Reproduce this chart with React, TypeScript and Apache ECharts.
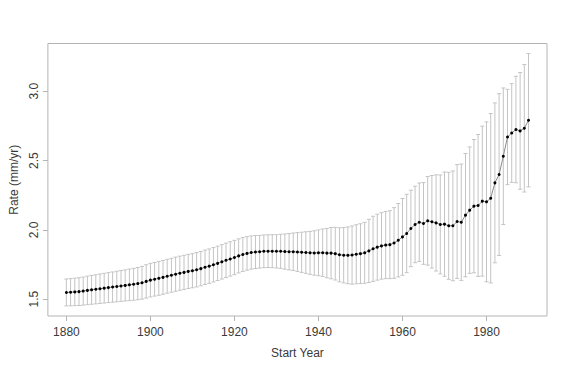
import React, { useEffect, useRef } from "react";
import * as echarts from "echarts";

const years: number[] = [
  1880, 1881, 1882, 1883, 1884, 1885, 1886, 1887, 1888, 1889,
  1890, 1891, 1892, 1893, 1894, 1895, 1896, 1897, 1898, 1899,
  1900, 1901, 1902, 1903, 1904, 1905, 1906, 1907, 1908, 1909,
  1910, 1911, 1912, 1913, 1914, 1915, 1916, 1917, 1918, 1919,
  1920, 1921, 1922, 1923, 1924, 1925, 1926, 1927, 1928, 1929,
  1930, 1931, 1932, 1933, 1934, 1935, 1936, 1937, 1938, 1939,
  1940, 1941, 1942, 1943, 1944, 1945, 1946, 1947, 1948, 1949,
  1950, 1951, 1952, 1953, 1954, 1955, 1956, 1957, 1958, 1959,
  1960, 1961, 1962, 1963, 1964, 1965, 1966, 1967, 1968, 1969,
  1970, 1971, 1972, 1973, 1974, 1975, 1976, 1977, 1978, 1979,
  1980, 1981, 1982, 1983, 1984, 1985, 1986, 1987, 1988, 1989,
  1990,
];

const rate: number[] = [
  1.548, 1.55, 1.552, 1.554, 1.558, 1.563, 1.567, 1.571, 1.575, 1.579,
  1.583, 1.587, 1.591, 1.595, 1.599, 1.603, 1.607, 1.612, 1.618, 1.628,
  1.637, 1.643, 1.65, 1.657, 1.665, 1.672, 1.68, 1.687, 1.693, 1.7,
  1.705, 1.712, 1.72, 1.73, 1.738, 1.748, 1.758, 1.769, 1.78, 1.79,
  1.8, 1.812, 1.822, 1.83, 1.836, 1.84, 1.842, 1.845, 1.846, 1.846,
  1.845, 1.845, 1.843, 1.842, 1.842, 1.84, 1.838, 1.836, 1.834, 1.833,
  1.834, 1.835, 1.832, 1.832, 1.828, 1.82, 1.817, 1.816, 1.818, 1.824,
  1.828, 1.834, 1.848, 1.863, 1.875, 1.884, 1.89, 1.893, 1.905, 1.925,
  1.949, 1.974, 2.01, 2.039, 2.055, 2.046, 2.065, 2.058, 2.05, 2.039,
  2.041, 2.029, 2.029, 2.06, 2.055, 2.106, 2.142, 2.171, 2.176, 2.207,
  2.202, 2.228, 2.339, 2.399, 2.531, 2.67, 2.699, 2.724, 2.714, 2.733,
  2.791,
];

const halfWidth: number[] = [
  0.097, 0.098, 0.099, 0.1, 0.101, 0.103, 0.104, 0.105, 0.106, 0.107,
  0.108, 0.109, 0.11, 0.111, 0.112, 0.114, 0.115, 0.116, 0.118, 0.12,
  0.121, 0.121, 0.122, 0.122, 0.122, 0.122, 0.123, 0.123, 0.123, 0.123,
  0.123, 0.124, 0.124, 0.124, 0.124, 0.124, 0.124, 0.124, 0.124, 0.124,
  0.124, 0.123, 0.122, 0.121, 0.12, 0.119, 0.118, 0.118, 0.118, 0.119,
  0.12, 0.123, 0.127, 0.131, 0.135, 0.14, 0.145, 0.15, 0.155, 0.16,
  0.165, 0.171, 0.178, 0.185, 0.19, 0.195, 0.2, 0.205, 0.21, 0.213,
  0.216, 0.22, 0.228, 0.235, 0.238, 0.24, 0.242, 0.245, 0.255, 0.265,
  0.277, 0.283, 0.276, 0.276, 0.283, 0.295, 0.32, 0.334, 0.347, 0.357,
  0.376, 0.386, 0.396, 0.411, 0.42, 0.445, 0.456, 0.481, 0.512, 0.541,
  0.577, 0.611, 0.577, 0.584, 0.493, 0.344, 0.356, 0.384, 0.421, 0.46,
  0.481,
];

const xTicks: number[] = [1880, 1900, 1920, 1940, 1960, 1980];
const yTicks: number[] = [1.5, 2.0, 2.5, 3.0];

export default function App() {
  const ref = useRef<HTMLDivElement>(null);

  useEffect(() => {
    if (!ref.current) return;
    document.body.style.margin = "0";
    const chart = echarts.init(ref.current, null, { renderer: "svg" });

    const lows = rate.map((v, i) => v - halfWidth[i]);
    const highs = rate.map((v, i) => v + halfWidth[i]);
    const dMin = Math.min(...lows);
    const dMax = Math.max(...highs);
    const yPad = (dMax - dMin) * 0.04;
    const xPad = (years[years.length - 1] - years[0]) * 0.04;

    const errData = years.map((y, i) => [y, lows[i], highs[i]]);
    const lineData = years.map((y, i) => [y, rate[i]]);

    const textColor = "#3a3a3a";
    const font = "Liberation Sans, Arial, sans-serif";

    chart.setOption({
      animation: false,
      backgroundColor: "#ffffff",
      grid: {
        left: 43.5,
        right: 23,
        top: 43.5,
        bottom: 55,
        show: true,
        borderColor: "#b4b4b4",
        borderWidth: 1,
        backgroundColor: "transparent",
      },
      xAxis: {
        type: "value",
        min: years[0] - xPad,
        max: years[years.length - 1] + xPad,
        name: "Start Year",
        nameLocation: "middle",
        nameGap: 31,
        nameTextStyle: { color: textColor, fontSize: 12, fontFamily: font },
        axisLine: { show: false },
        splitLine: { show: false },
        axisTick: {
          show: true,
          length: 5,
          customValues: xTicks,
          lineStyle: { color: "#b4b4b4" },
        },
        axisLabel: {
          customValues: xTicks,
          color: textColor,
          fontSize: 12,
          fontFamily: font,
          margin: 10,
          formatter: (v: number) => String(v),
        },
      },
      yAxis: {
        type: "value",
        min: dMin - yPad,
        max: dMax + yPad,
        name: "Rate (mm/yr)",
        nameLocation: "middle",
        nameGap: 26,
        nameTextStyle: { color: textColor, fontSize: 12, fontFamily: font },
        axisLine: { show: false },
        splitLine: { show: false },
        axisTick: {
          show: true,
          length: 5,
          customValues: yTicks,
          lineStyle: { color: "#b4b4b4" },
        },
        axisLabel: {
          customValues: yTicks,
          rotate: 90,
          color: textColor,
          fontSize: 12,
          fontFamily: font,
          margin: 8,
          formatter: (v: number) => v.toFixed(1),
        },
      },
      series: [
        {
          type: "custom",
          data: errData,
          encode: { x: 0, y: [1, 2] },
          z: 1,
          renderItem: (params: any, api: any) => {
            const x = api.value(0);
            const lo = api.coord([x, api.value(1)]);
            const hi = api.coord([x, api.value(2)]);
            const cap = 2;
            const style = { stroke: "#c4c4c4", lineWidth: 1, fill: null };
            return {
              type: "group",
              children: [
                { type: "line", shape: { x1: lo[0], y1: lo[1], x2: hi[0], y2: hi[1] }, style },
                { type: "line", shape: { x1: lo[0] - cap, y1: lo[1], x2: lo[0] + cap, y2: lo[1] }, style },
                { type: "line", shape: { x1: hi[0] - cap, y1: hi[1], x2: hi[0] + cap, y2: hi[1] }, style },
              ],
            };
          },
        },
        {
          type: "line",
          data: lineData,
          z: 2,
          symbol: "circle",
          symbolSize: 3,
          showSymbol: true,
          itemStyle: { color: "#000000" },
          lineStyle: { color: "#8a8a8a", width: 1 },
        },
      ],
    });

    return () => chart.dispose();
  }, []);

  return <div ref={ref} style={{ width: 570, height: 371 }} />;
}
